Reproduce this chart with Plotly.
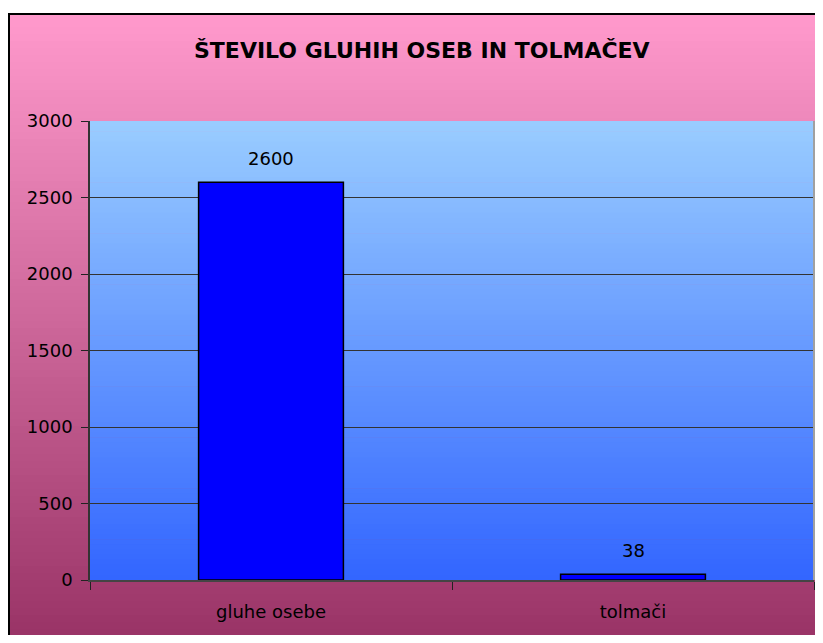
import plotly.graph_objects as go

# ---- data ----
categories = ["gluhe osebe", "tolmači"]
values = [2600, 38]
title_text = "ŠTEVILO GLUHIH OSEB IN TOLMAČEV"
y_ticks = [0, 500, 1000, 1500, 2000, 2500, 3000]

# ---- layout geometry (pixels, page has an 8px body margin) ----
OFF = 8
W, H = 823 - 2 * OFF, 643 - 2 * OFF
L, R, T, B = 90 - OFF, 814 - OFF, 121 - OFF, 580 - OFF  # plot area


def px(x):
    return (x - L) / (R - L)


def py(y):
    return (B - y) / (B - T)


def lerp(c1, c2, t):
    return "rgb(%d,%d,%d)" % tuple(round(a + (b - a) * t) for a, b in zip(c1, c2))


shapes = []
# outer gradient (pink -> plum)
o_top, o_bot = 13 - OFF, 643 - OFF
o_left, o_right = 8 - OFF, 840
n = 90
c_top, c_bot = (255, 153, 204), (153, 51, 102)
for i in range(n):
    y0 = o_top + (o_bot - o_top) * i / n
    y1 = o_top + (o_bot - o_top) * (i + 1) / n + 0.6
    shapes.append(dict(type="rect", xref="paper", yref="paper",
                       x0=px(o_left), x1=px(o_right), y0=py(y1), y1=py(y0),
                       fillcolor=lerp(c_top, c_bot, i / (n - 1)),
                       line=dict(width=0), layer="below"))
# outer frame
shapes.append(dict(type="rect", xref="paper", yref="paper",
                   x0=px(o_left + 1), x1=px(o_right), y0=py(o_bot + 10), y1=py(o_top + 1),
                   line=dict(color="black", width=2), fillcolor="rgba(0,0,0,0)",
                   layer="below"))
# plot area gradient (light blue -> blue)
m = 90
p_top, p_bot = (153, 204, 255), (51, 102, 255)
for i in range(m):
    y0 = T + (B - T) * i / m
    y1 = T + (B - T) * (i + 1) / m + 0.6
    shapes.append(dict(type="rect", xref="paper", yref="paper",
                       x0=0, x1=1, y0=max(0, py(y1)), y1=py(y0),
                       fillcolor=lerp(p_top, p_bot, i / (m - 1)),
                       line=dict(width=0), layer="below"))
# right border of plot area
shapes.append(dict(type="line", xref="paper", yref="paper",
                   x0=px(R), x1=px(R), y0=0, y1=1,
                   line=dict(color="#A0A0A0", width=2), layer="above"))

fig = go.Figure()
fig.add_trace(go.Bar(
    x=categories, y=values, width=0.4,
    marker=dict(color="#0000FF", line=dict(color="black", width=1.5)),
    hoverinfo="x+y",
))

annotations = [
    dict(x=c, y=v, xref="x", yref="y", text=str(v), showarrow=False,
         yshift=24, yanchor="middle", xanchor="center",
         font=dict(family="DejaVu Sans", size=18, color="black"))
    for c, v in zip(categories, values)
]
annotations.append(dict(
    x=px(422 - OFF), y=py(51 - OFF), xref="paper", yref="paper", text=title_text,
    showarrow=False, xanchor="center", yanchor="middle",
    font=dict(family="DejaVu Sans", size=22, color="black", weight="bold")))

fig.update_layout(
    width=W, height=H,
    margin=dict(l=L, r=W - R, t=T, b=H - B, pad=0),
    paper_bgcolor="white",
    plot_bgcolor="rgba(0,0,0,0)",
    showlegend=False,
    shapes=shapes,
    annotations=annotations,
    font=dict(family="DejaVu Sans", size=18, color="black"),
    bargap=0.6,
)
fig.update_yaxes(
    range=[0, 3000], tickvals=y_ticks, ticktext=[str(t) for t in y_ticks],
    showgrid=True, gridcolor="#333333", gridwidth=1,
    zeroline=False, showline=True, linecolor="#333333", linewidth=1.5,
    ticks="outside", ticklen=7, tickcolor="#222222", tickwidth=1,
    ticklabelstandoff=5,
    tickfont=dict(family="DejaVu Sans", size=18, color="black"),
)
fig.update_xaxes(
    type="category", tickson="boundaries",
    showline=True, linecolor="#444444", linewidth=2,
    ticks="outside", ticklen=8, tickcolor="#222222", tickwidth=1,
    showgrid=False, ticklabelstandoff=14,
    tickfont=dict(family="DejaVu Sans", size=18, color="black"),
)

fig.write_html("out.html")
